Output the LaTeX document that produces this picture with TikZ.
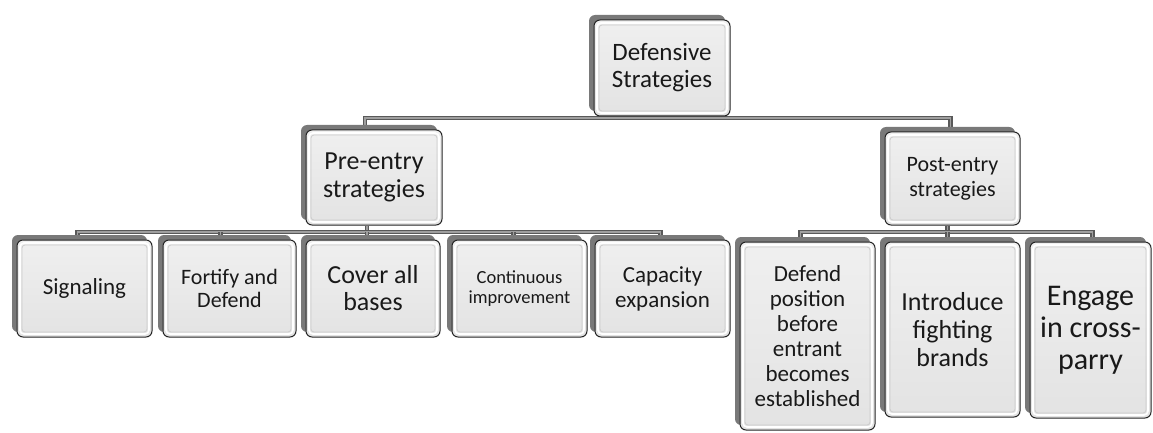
\documentclass[tikz,border=0pt]{standalone}
\usepackage{fontspec}
\setmainfont{Carlito}
\usetikzlibrary{shadows,backgrounds}

\tikzset{
  box/.style={rectangle, rounded corners=6pt, draw=gray!30!black, line width=1pt,
    top color=gray!12, bottom color=gray!22, text=black!90, align=center, inner sep=2pt,
    general shadow={fill=gray!95!black, shadow xshift=-5pt, shadow yshift=5pt},
    path picture={
      \draw[white, line width=1.6pt, rounded corners=4pt]
        ([shift={(3pt,-3pt)}]path picture bounding box.north west) rectangle
        ([shift={(-3pt,3pt)}]path picture bounding box.south east);
      \draw[gray!40, line width=0.8pt, rounded corners=3pt]
        ([shift={(5pt,-5pt)}]path picture bounding box.north west) rectangle
        ([shift={(-5pt,5pt)}]path picture bounding box.south east);
    }},
  bar/.style={draw=gray!70!black, line width=1.3pt, double=gray!75, double distance=1.6pt},
  fs/.style 2 args={font=\fontsize{#1}{#2}\selectfont}
}

\begin{document}
\begin{tikzpicture}[x=1pt, y=-1pt]
\useasboundingbox (0,0) rectangle (1153,433);
\begin{scope}
\clip (0,0) rectangle (1153,433);

% root and second level
\node[box, fs={25}{27}, minimum width=136pt, minimum height=96pt] (top) at (662,68) {Defensive\\Strategies};
\node[box, fs={26}{28}, minimum width=136pt, minimum height=95pt] (pre) at (374,177.5) {Pre-entry\\strategies};
\node[box, fs={22}{25}, minimum width=135pt, minimum height=93pt] (post) at (952.5,178.5) {Post-entry\\strategies};

% pre-entry branch
\node[box, fs={23}{25}, minimum width=135pt, minimum height=97pt] (sig) at (84.5,288.5) {Signaling};
\node[box, fs={22}{23}, minimum width=133pt, minimum height=97pt] (fort) at (229.5,288.5) {Fortify and\\Defend};
\node[box, fs={26}{27}, minimum width=134pt, minimum height=97pt] (cover) at (373,288.5) {Cover all\\bases};
\node[box, fs={18.5}{20}, minimum width=135pt, minimum height=97pt] (cont) at (519.5,288.5) {Continuous\\improvement};
\node[box, fs={23}{25}, minimum width=135pt, minimum height=97pt] (cap) at (662.5,288.5) {Capacity\\expansion};

% post-entry branch
\node[box, fs={23}{25}, minimum width=135pt, minimum height=188pt] (defend) at (807.5,336) {Defend\\position\\before\\entrant\\becomes\\established};
\node[box, fs={26}{28}, minimum width=135pt, minimum height=175pt] (intro) at (952.5,329.5) {Introduce\\fighting\\brands};
\node[box, fs={30}{32}, minimum width=121pt, minimum height=176pt] (engage) at (1090.5,330) {Engage\\in cross-\\parry};

% connectors
\begin{scope}[on background layer]
  \coordinate (b0) at (0,118);
  \coordinate (b1) at (0,232);
  \coordinate (preT) at ([xshift=-9pt]pre.north);
  \coordinate (postT) at ([xshift=-2pt]post.north);
  \coordinate (preB) at ([xshift=-7pt]pre.south);
  \coordinate (postB) at ([xshift=-5pt]post.south);
  \coordinate (sigT) at ([xshift=-7pt]sig.north);
  \coordinate (fortT) at ([xshift=-9pt]fort.north);
  \coordinate (coverT) at ([xshift=-6pt]cover.north);
  \coordinate (contT) at ([xshift=-6pt]cont.north);
  \coordinate (capT) at ([xshift=-2pt]cap.north);
  \coordinate (defendT) at ([xshift=-7pt]defend.north);
  \coordinate (introT) at ([xshift=-5pt]intro.north);
  \coordinate (engageT) at ([xshift=2pt]engage.north);

  \draw[bar] (top.south) -- (top.south |- b0);
  \draw[bar] (preT) -- (preT |- b0) -- (postT |- b0) -- (postT);

  \draw[bar] (preB) -- (preB |- b1);
  \draw[bar] (sigT) -- (sigT |- b1) -- (capT |- b1) -- (capT);
  \draw[bar] (fortT |- b1) -- (fortT);
  \draw[bar] (coverT |- b1) -- (coverT);
  \draw[bar] (contT |- b1) -- (contT);

  \draw[bar] (postB) -- (postB |- b1);
  \draw[bar] (defendT) -- (defendT |- b1) -- (engageT |- b1) -- (engageT);
  \draw[bar] (introT |- b1) -- (introT);
\end{scope}
\end{scope}
\end{tikzpicture}
\end{document}
